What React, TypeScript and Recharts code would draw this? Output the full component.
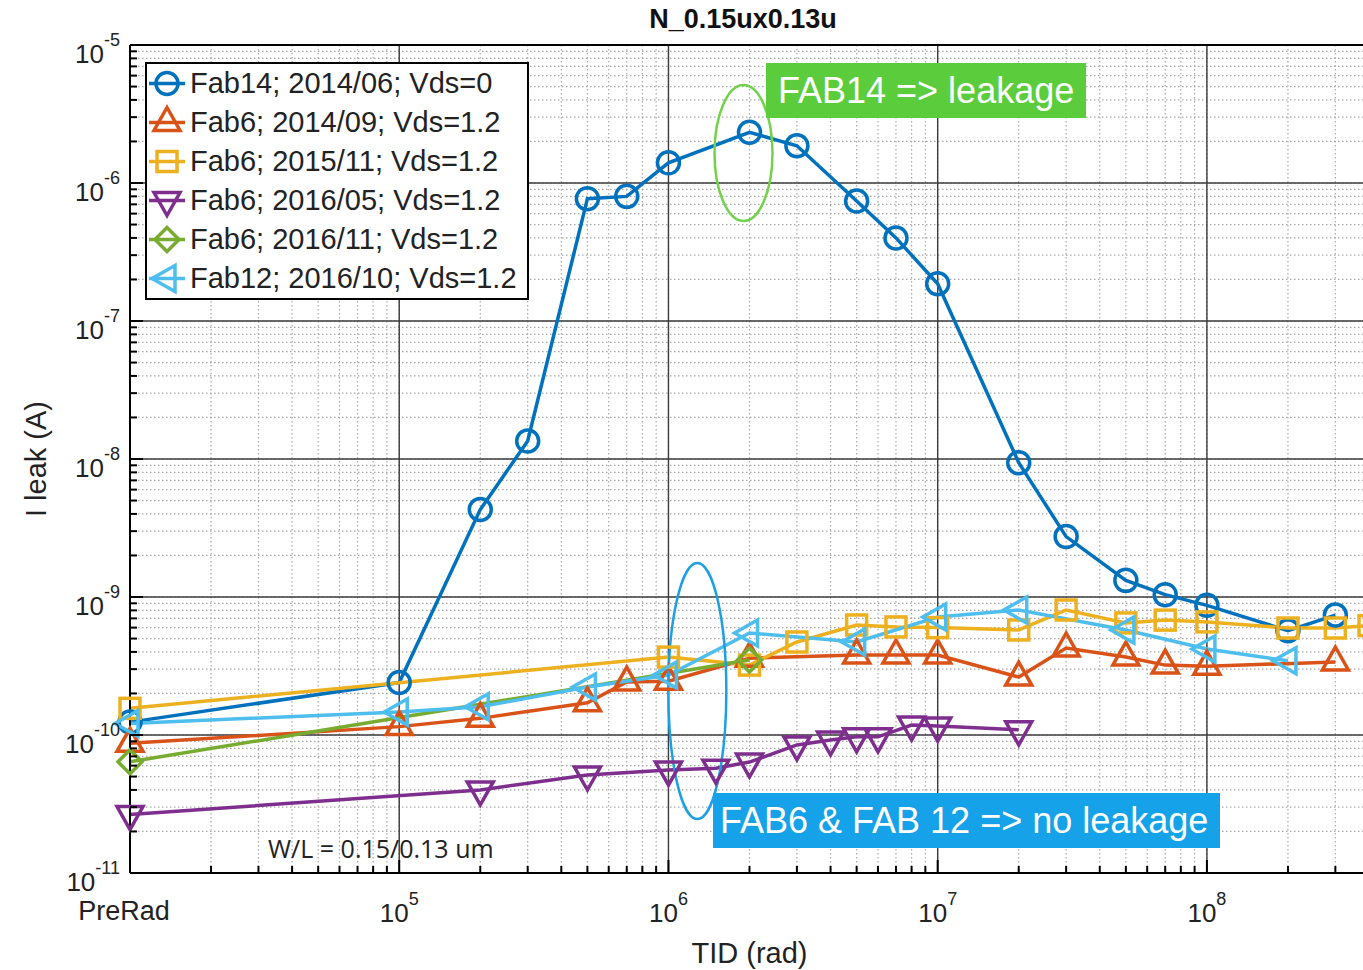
import { LineChart, Line, XAxis, YAxis, CartesianGrid, ReferenceLine, ReferenceDot, Legend } from 'recharts'

const W = 1363
const H = 970
// the axes box runs slightly past the right edge of the picture and is cropped
const CHART_W = 1370
const FONT = '"Liberation Sans", Arial, Helvetica, sans-serif'

// PreRad is drawn at 1e4 on the log axis
const PRERAD = 1e4

const fab14X = [1e4, 1e5, 2e5, 3e5, 5e5, 7e5, 1e6, 2e6, 3e6, 5e6, 7e6, 1e7, 2e7, 3e7, 5e7, 7e7, 1e8, 2e8, 3e8]
const fab14Y = [1.24e-10, 2.4e-10, 4.3e-9, 1.35e-8, 7.7e-7, 8.0e-7, 1.4e-6, 2.33e-6, 1.86e-6, 7.4e-7, 4.0e-7, 1.86e-7, 9.4e-9, 2.74e-9, 1.32e-9, 1.04e-9, 8.7e-10, 5.7e-10, 7.4e-10]

const fab6aX = [1e4, 1e5, 2e5, 5e5, 7e5, 1e6, 2e6, 5e6, 7e6, 1e7, 2e7, 3e7, 5e7, 7e7, 1e8, 3e8]
const fab6aY = [8.7e-11, 1.15e-10, 1.32e-10, 1.71e-10, 2.42e-10, 2.45e-10, 3.6e-10, 3.8e-10, 3.8e-10, 3.8e-10, 2.63e-10, 4.27e-10, 3.67e-10, 3.21e-10, 3.15e-10, 3.38e-10]

const fab6bX = [1e4, 1e6, 2e6, 3e6, 5e6, 7e6, 1e7, 2e7, 3e7, 5e7, 7e7, 1e8, 2e8, 3e8, 4e8]
const fab6bY = [1.56e-10, 3.67e-10, 3.21e-10, 4.72e-10, 6.27e-10, 6.07e-10, 6.0e-10, 5.77e-10, 8.05e-10, 6.49e-10, 6.8e-10, 6.6e-10, 5.96e-10, 5.96e-10, 6.2e-10]

const fab6cX = [1e4, 2e5, 5e5, 1e6, 1.5e6, 2e6, 3e6, 4e6, 5e6, 6e6, 8e6, 1e7, 2e7]
const fab6cY = [2.65e-11, 4.0e-11, 5.13e-11, 5.57e-11, 5.75e-11, 6.37e-11, 8.47e-11, 9.2e-11, 9.7e-11, 9.7e-11, 1.18e-10, 1.16e-10, 1.09e-10]

const fab6dX = [1e4, 2e6]
const fab6dY = [6.4e-11, 3.49e-10]

const fab12X = [1e4, 1e5, 2e5, 5e5, 1e6, 2e6, 5e6, 1e7, 2e7, 5e7, 1e8, 2e8]
const fab12Y = [1.21e-10, 1.47e-10, 1.6e-10, 2.23e-10, 2.72e-10, 5.48e-10, 4.72e-10, 7.16e-10, 8.05e-10, 5.77e-10, 4.2e-10, 3.45e-10]

const toPoints = (xs: number[], ys: number[]) => xs.map((x, i) => ({ x, y: ys[i] }))

type Shape = 'circle' | 'up' | 'square' | 'down' | 'diamond' | 'left'

const series: { name: string; color: string; shape: Shape; data: { x: number; y: number }[] }[] = [
  { name: 'Fab14; 2014/06; Vds=0', color: '#0072BD', shape: 'circle', data: toPoints(fab14X, fab14Y) },
  { name: 'Fab6; 2014/09; Vds=1.2', color: '#D95319', shape: 'up', data: toPoints(fab6aX, fab6aY) },
  { name: 'Fab6; 2015/11; Vds=1.2', color: '#EDB120', shape: 'square', data: toPoints(fab6bX, fab6bY) },
  { name: 'Fab6; 2016/05; Vds=1.2', color: '#7E2F8E', shape: 'down', data: toPoints(fab6cX, fab6cY) },
  { name: 'Fab6; 2016/11; Vds=1.2', color: '#77AC30', shape: 'diamond', data: toPoints(fab6dX, fab6dY) },
  { name: 'Fab12; 2016/10; Vds=1.2', color: '#4DBEEE', shape: 'left', data: toPoints(fab12X, fab12Y) },
]

const majorX = [1e4, 1e5, 1e6, 1e7, 1e8]
const majorY = [1e-11, 1e-10, 1e-9, 1e-8, 1e-7, 1e-6, 1e-5]
const xDomain = [1e4, 4e8]
const yDomain = [1e-11, 1e-5]

const withMinor = (majors: number[], max: number) => {
  const out: number[] = []
  majors.forEach((m) => {
    out.push(m)
    for (let k = 2; k <= 9; k++) if (k * m <= max) out.push(k * m)
  })
  return out
}
const allX = withMinor(majorX, xDomain[1])
const allY = withMinor(majorY, yDomain[1])

const Marker = ({ shape, cx, cy, color }: { shape: Shape; cx: number; cy: number; color: string }) => {
  const st = { fill: 'none', stroke: color, strokeWidth: 3.5, strokeLinejoin: 'miter' as const }
  switch (shape) {
    case 'circle':
      return <circle cx={cx} cy={cy} r={11} {...st} />
    case 'up':
      return <polygon points={`${cx},${cy - 15} ${cx - 13},${cy + 8} ${cx + 13},${cy + 8}`} {...st} />
    case 'down':
      return <polygon points={`${cx},${cy + 15} ${cx - 13},${cy - 8} ${cx + 13},${cy - 8}`} {...st} />
    case 'left':
      return <polygon points={`${cx - 15},${cy} ${cx + 8},${cy - 13} ${cx + 8},${cy + 13}`} {...st} />
    case 'square':
      return <rect x={cx - 10} y={cy - 10} width={20} height={20} {...st} />
    default:
      return <polygon points={`${cx},${cy - 12} ${cx + 12},${cy} ${cx},${cy + 12} ${cx - 12},${cy}`} {...st} />
  }
}

const Pow = ({ x, y, exp, anchor }: { x: number; y: number; exp: number; anchor: 'middle' | 'end' }) => (
  <text x={x} y={y} textAnchor={anchor} fontFamily={FONT} fill="#222">
    <tspan fontSize={26}>10</tspan>
    <tspan fontSize={18} dy={-17}>{exp}</tspan>
  </text>
)

const BottomTick = (p: any) => {
  const v = p.payload.value
  const major = majorX.includes(v)
  return (
    <g>
      <line x1={p.x} x2={p.x} y1={p.y} y2={p.y - (major ? 13 : 7)} stroke="#000" strokeWidth={2} />
      {major && v === PRERAD && (
        <text x={p.x - 6} y={p.y + 47} textAnchor="middle" fontSize={27} fontFamily={FONT} fill="#222">
          PreRad
        </text>
      )}
      {major && v !== PRERAD && <Pow x={p.x} y={p.y + 49} exp={Math.round(Math.log10(v))} anchor="middle" />}
    </g>
  )
}

const TopTick = (p: any) => {
  const major = majorX.includes(p.payload.value)
  return <line x1={p.x} x2={p.x} y1={p.y} y2={p.y + (major ? 13 : 7)} stroke="#000" strokeWidth={2} />
}

const LeftTick = (p: any) => {
  const v = p.payload.value
  const major = majorY.includes(v)
  return (
    <g>
      <line x1={p.x} x2={p.x + (major ? 13 : 7)} y1={p.y} y2={p.y} stroke="#000" strokeWidth={2} />
      {major && <Pow x={p.x - 10} y={p.y + 18} exp={Math.round(Math.log10(v))} anchor="end" />}
    </g>
  )
}

const RightTick = (p: any) => {
  const major = majorY.includes(p.payload.value)
  return <line x1={p.x} x2={p.x - (major ? 13 : 7)} y1={p.y} y2={p.y} stroke="#000" strokeWidth={2} />
}

const LegendBox = () => (
  <div
    style={{
      border: '2px solid #000',
      background: '#fff',
      width: 380,
      fontFamily: FONT,
      fontSize: 29,
      color: '#222',
      whiteSpace: 'nowrap',
    }}
  >
    {series.map((s) => (
      <div key={s.name} style={{ display: 'flex', alignItems: 'center', height: 39 }}>
        <svg width={40} height={39} style={{ flex: 'none' }}>
          <line x1={2} x2={38} y1={19.5} y2={19.5} stroke={s.color} strokeWidth={3.5} />
          <Marker shape={s.shape} cx={20} cy={19.5} color={s.color} />
        </svg>
        <span style={{ marginLeft: 3 }}>{s.name}</span>
      </div>
    ))}
  </div>
)

const Ellipse = (rx: number, ry: number, color: string) => (p: any) => (
  <ellipse cx={p.cx} cy={p.cy} rx={rx} ry={ry} fill="none" stroke={color} strokeWidth={2.5} />
)

const boxText = {
  position: 'absolute' as const,
  color: '#fff',
  fontFamily: FONT,
  fontSize: 36,
  height: 55,
  lineHeight: '55px',
  whiteSpace: 'nowrap' as const,
  boxSizing: 'border-box' as const,
}

export default function App() {
  return (
    <div style={{ position: 'relative', width: W, height: H, overflow: 'hidden' }}>
      <style>{'body{margin:0}'}</style>
      <LineChart width={CHART_W} height={H} margin={{ top: 44, right: 0, bottom: 0, left: 0 }}>
        <CartesianGrid stroke="#a8a8a8" strokeWidth={1.2} strokeDasharray="1.5 2.5" />
        {majorX.map((v) => (
          <ReferenceLine key={`gx${v}`} x={v} stroke="#3a3a3a" strokeWidth={1.4} />
        ))}
        {majorY.map((v) => (
          <ReferenceLine key={`gy${v}`} y={v} stroke="#3a3a3a" strokeWidth={1.4} />
        ))}
        <XAxis
          dataKey="x"
          type="number"
          scale="log"
          domain={xDomain}
          ticks={allX}
          interval={0}
          height={97}
          tickSize={0}
          tickMargin={0}
          tickLine={false}
          tick={BottomTick}
          axisLine={{ stroke: '#000', strokeWidth: 2 }}
          label={{ value: 'TID (rad)', position: 'insideBottom', offset: 7, fontSize: 29, fontFamily: FONT, fill: '#222' }}
        />
        <XAxis
          xAxisId="top"
          orientation="top"
          dataKey="x"
          type="number"
          scale="log"
          domain={xDomain}
          ticks={allX}
          interval={0}
          height={1}
          tickSize={0}
          tickMargin={0}
          tickLine={false}
          tick={TopTick}
          axisLine={{ stroke: '#000', strokeWidth: 2 }}
        />
        <YAxis
          type="number"
          scale="log"
          domain={yDomain}
          ticks={allY}
          interval={0}
          width={130}
          tickSize={0}
          tickMargin={0}
          tickLine={false}
          tick={LeftTick}
          axisLine={{ stroke: '#000', strokeWidth: 2 }}
          label={{
            content: ({ viewBox }: any) => {
              const cx = 36
              const cy = viewBox.y + viewBox.height / 2
              return (
                <text
                  x={cx}
                  y={cy}
                  transform={`rotate(-90 ${cx} ${cy})`}
                  textAnchor="middle"
                  dominantBaseline="central"
                  fontSize={29}
                  fontFamily={FONT}
                  fill="#222"
                >
                  I leak (A)
                </text>
              )
            },
          }}
        />
        <YAxis
          yAxisId="right"
          orientation="right"
          type="number"
          scale="log"
          domain={yDomain}
          ticks={allY}
          interval={0}
          width={1}
          tickSize={0}
          tickMargin={0}
          tickLine={false}
          tick={RightTick}
          axisLine={{ stroke: '#000', strokeWidth: 2 }}
        />
        {series.map((s) => (
          <Line
            key={s.name}
            data={s.data}
            dataKey="y"
            name={s.name}
            stroke={s.color}
            strokeWidth={3.5}
            isAnimationActive={false}
            dot={(p: any) => <Marker key={`${s.shape}-${p.index}`} shape={s.shape} cx={p.cx} cy={p.cy} color={s.color} />}
          />
        ))}
        <ReferenceDot x={1.9e6} y={1.65e-6} r={1} shape={Ellipse(29, 68, '#72d24c')} />
        <ReferenceDot x={1.28e6} y={2.08e-10} r={1} shape={Ellipse(29, 128, '#1c9fe4')} />
        <Legend
          layout="vertical"
          align="center"
          verticalAlign="middle"
          wrapperStyle={{ left: 145, top: 62 }}
          content={() => <LegendBox />}
        />
      </LineChart>
      <div
        style={{
          position: 'absolute',
          left: 643,
          top: 4,
          width: 200,
          textAlign: 'center',
          fontFamily: FONT,
          fontWeight: 'bold',
          fontSize: 27,
          color: '#111',
        }}
      >
        N_0.15ux0.13u
      </div>
      <div style={{ ...boxText, left: 766, top: 63, width: 320, background: '#5bcd3c', paddingLeft: 12 }}>
        FAB14 =&gt; leakage
      </div>
      <div style={{ ...boxText, left: 713, top: 793, width: 507, background: '#15a2e8', paddingLeft: 7 }}>
        FAB6 &amp; FAB 12 =&gt; no leakage
      </div>
      <div
        style={{
          position: 'absolute',
          left: 268,
          top: 831,
          fontFamily: '"Open Sans", sans-serif',
          fontSize: 25,
          color: '#222',
          whiteSpace: 'nowrap',
        }}
      >
        W/L = 0.15/0.13 um
      </div>
    </div>
  )
}
